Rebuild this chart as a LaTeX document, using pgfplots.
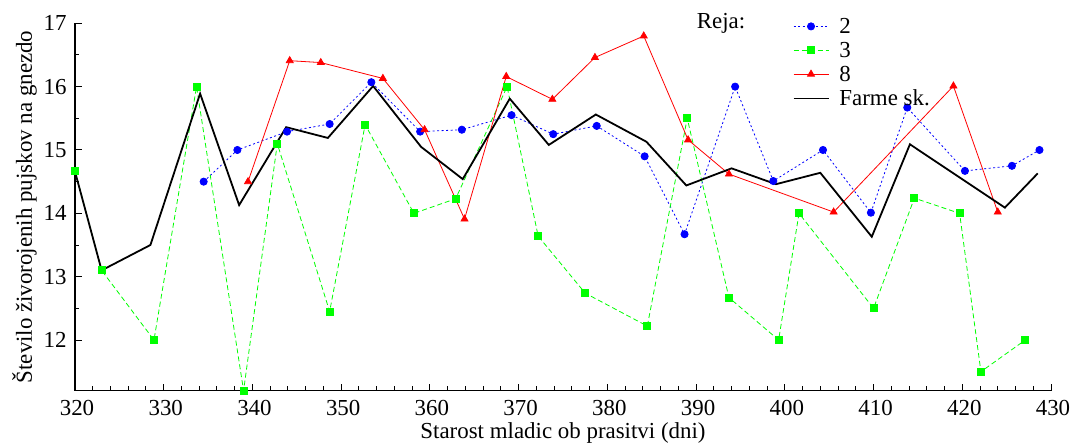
\documentclass[border=0pt]{standalone}
\usepackage{fontspec}
\setmainfont{Liberation Serif}
\usepackage{pgfplots}
\pgfplotsset{compat=1.18}
\definecolor{cblue}{RGB}{0,0,255}
\definecolor{cgreen}{RGB}{0,255,0}
\definecolor{cred}{RGB}{255,0,0}
\begin{document}
\begin{tikzpicture}
\useasboundingbox (0,0) rectangle (1074bp,444bp);
\begin{axis}[
  at={(75bp,53.3bp)}, anchor=south west,
  scale only axis, width=976bp, height=367.4bp,
  xmin=320, xmax=430, ymin=11.2, ymax=17,
  axis x line*=bottom, axis y line*=left,
  axis line style={-, line width=1.2bp},
  every tick/.style={black, line width=1bp},
  tick align=inside,
  major tick length=7bp, minor tick length=4.5bp,
  xtick={320,330,...,430}, ytick={12,13,...,17},
  minor x tick num=4, minor y tick num=1,
  clip=false,
  /pgf/number format/assume math mode=true,
  tick label style={font=\fontsize{23}{27}\selectfont},
  yticklabel style={xshift=-5bp},
  xticklabel style={yshift=-6bp, xshift=2bp},
  label style={font=\fontsize{23}{27}\selectfont},
  xlabel={Starost mladic ob prasitvi (dni)},
  ylabel={Število živorojenih pujskov na gnezdo},
  legend style={draw=none, fill=none, at={(axis description cs:0.732,1.03)}, anchor=north west,
    font=\fontsize{23}{27}\selectfont, row sep=0pt, column sep=8bp, nodes={inner ysep=3.6bp}},
  legend cell align=left,
  legend image code/.code={\draw[mark repeat=2,mark phase=2,#1] plot coordinates {(0bp,0bp) (17.5bp,0bp) (35bp,0bp)};},
]
\addplot[cblue, line width=0.8bp, dash pattern=on 2bp off 2.5bp, mark=*, mark size=3.6bp, mark options={solid, fill=cblue}] coordinates {
(334.5,14.50) (338.3,15.00) (343.9,15.29) (348.7,15.41) (353.4,16.07) (358.9,15.29) (363.6,15.32) (369.2,15.55) (373.9,15.25) (378.8,15.38) (384.2,14.90) (388.7,13.67) (394.4,16.00) (398.7,14.51) (404.3,15.00) (409.7,14.01) (413.8,15.67) (420.3,14.67) (425.6,14.75) (428.7,15.00)
};
\addlegendentry{2}
\addplot[cgreen, line width=0.8bp, dash pattern=on 5bp off 3bp, mark=square*, mark size=3.5bp, mark options={solid, fill=cgreen}] coordinates {
(320,14.67) (323.0,13.10) (328.9,12.00) (333.7,16.00) (339.0,11.20) (342.8,15.10) (348.7,12.45) (352.7,15.40) (358.2,14.00) (362.9,14.23) (368.7,16.00) (372.2,13.64) (377.5,12.74) (384.5,12.22) (389.0,15.50) (393.7,12.67) (399.3,12.00) (401.6,14.00) (410.0,12.50) (414.6,14.24) (419.7,14.00) (422.1,11.50) (427.1,12.00)
};
\addlegendentry{3}
\addplot[cred, line width=0.8bp, mark=triangle*, mark size=4bp, mark options={solid, fill=cred}] coordinates {
(339.5,14.50) (344.2,16.41) (347.7,16.38) (354.7,16.13) (359.4,15.32) (363.9,13.91) (368.6,16.16) (373.8,15.80) (378.6,16.46) (384.1,16.80) (389.1,15.16) (393.7,14.62) (405.5,14.02) (419.0,16.01) (424.0,14.02)
};
\addlegendentry{8}
\addplot[black, line width=1.8bp, mark=none] coordinates {
(320,14.66) (323.0,13.10) (328.5,13.50) (334.1,15.89) (338.5,14.13) (343.8,15.36) (348.5,15.19) (353.6,16.01) (359.0,15.05) (363.7,14.54) (369.0,15.81) (373.4,15.08) (378.7,15.56) (384.4,15.13) (388.9,14.44) (394.0,14.71) (399.0,14.46) (404.0,14.64) (409.8,13.63) (414.1,15.09) (424.8,14.09) (428.5,14.63)
};
\addlegendentry{Farme sk.}
\node[anchor=base west, inner sep=0pt, font=\fontsize{23}{27}\selectfont] at (axis description cs:0.637,0.9845) {Reja:};
\end{axis}
\end{tikzpicture}
\end{document}
